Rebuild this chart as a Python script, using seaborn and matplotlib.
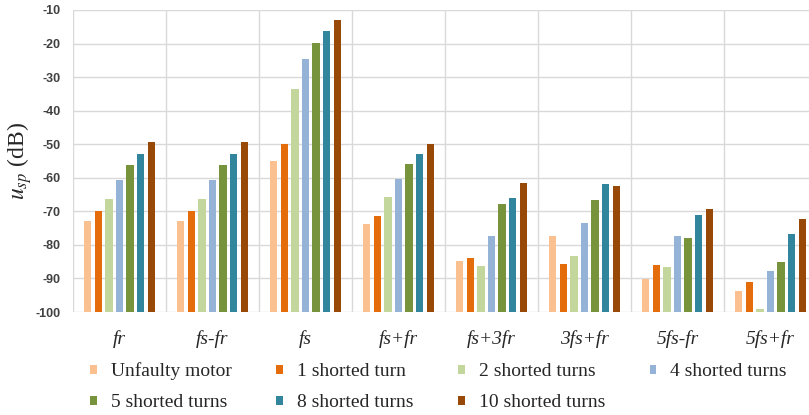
import numpy as np
import pandas as pd
import matplotlib
matplotlib.use("Agg")
import matplotlib.pyplot as plt
from matplotlib.patches import Patch
import seaborn as sns

# harmonic components on the x axis
harmonics = ["fr", "fs-fr", "fs", "fs+fr", "fs+3fr", "3fs+fr", "5fs-fr", "5fs+fr"]
conditions = ["Unfaulty motor", "1 shorted turn", "2 shorted turns", "4 shorted turns",
              "5 shorted turns", "8 shorted turns", "10 shorted turns"]

# amplitudes in dB
unfaulty = [-72.8, -72.8, -54.9, -73.8, -84.8, -77.3, -90.2, -93.6]
turns_1 = [-69.9, -69.9, -49.8, -71.3, -84.0, -85.8, -86.1, -91.2]
turns_2 = [-66.3, -66.3, -33.6, -65.6, -86.2, -83.4, -86.7, -99.1]
turns_4 = [-60.8, -60.8, -24.7, -60.4, -77.5, -73.4, -77.3, -87.9]
turns_5 = [-56.3, -56.3, -19.9, -55.9, -67.9, -66.5, -77.9, -85.0]
turns_8 = [-52.9, -52.9, -16.2, -52.9, -65.9, -61.8, -71.0, -76.8]
turns_10 = [-49.2, -49.2, -13.0, -50.0, -61.7, -62.5, -69.3, -72.3]

colors = ["#FAC090", "#E46C0A", "#C3D69B", "#95B3D7", "#77933C", "#31859C", "#984807"]
floor_db = -100

series = [unfaulty, turns_1, turns_2, turns_4, turns_5, turns_8, turns_10]
rows = []
for cond, vals in zip(conditions, series):
    for h, v in zip(harmonics, vals):
        rows.append({"harmonic": h, "condition": cond, "value": v, "rise": v - floor_db})
df = pd.DataFrame(rows)

sns.set_theme(style="white")
plt.rcParams["axes.unicode_minus"] = False
plt.rcParams["mathtext.fontset"] = "stix"
plt.rcParams["font.family"] = ["Liberation Serif", "DejaVu Serif"]

fig = plt.figure(figsize=(8.09, 4.15), dpi=100)
ax = fig.add_axes([73 / 809, 1 - 312 / 415, 744 / 809, 302 / 415])

sns.barplot(data=df, x="harmonic", y="rise", hue="condition", hue_order=conditions,
            order=harmonics, palette=colors, bottom=floor_db, width=0.8, gap=0.3,
            errorbar=None, saturation=1, linewidth=0, legend=False, ax=ax)

ax.set_ylim(-100, -10)
ax.set_xlim(-0.5, 7.5)
ax.set_yticks(np.arange(-100, 0, 10))
ax.set_yticklabels([f"{t:d}" for t in range(-100, 0, 10)],
                   fontfamily="Liberation Sans", fontweight="bold", fontsize=9,
                   color="#404040")
ax.set_xticks(range(len(harmonics)))
ax.set_xticklabels(harmonics, fontstyle="italic", fontsize=14, color="#262626")
ax.set_xticks(np.arange(-0.5, len(harmonics), 1), minor=True)
ax.tick_params(axis="both", which="both", length=0)
ax.tick_params(axis="y", pad=9)
ax.tick_params(axis="x", pad=13)

ax.set_axisbelow(True)
ax.yaxis.grid(True, color="#D9D9D9", linewidth=1)
ax.xaxis.grid(True, which="minor", color="#D9D9D9", linewidth=1)
ax.xaxis.grid(False, which="major")
for s in ax.spines.values():
    s.set_visible(False)

ax.set_xlabel("")
ax.set_ylabel(r"$u_{sp}$ (dB)", fontsize=17, color="#262626")
ax.yaxis.set_label_coords(-0.052, 0.5)

# legend filled row by row like the original (matplotlib fills by column)
handles = [Patch(facecolor=c, edgecolor="none") for c in colors]
order = [0, 4, 1, 5, 2, 6, 3]
fig.legend([handles[i] for i in order], [conditions[i] for i in order],
           loc="center", bbox_to_anchor=(0.542, 0.068), ncol=4,
           frameon=False, fontsize=14, handlelength=0.35, handleheight=0.35,
           handletextpad=0.7, columnspacing=2.3, labelspacing=0.72,
           borderpad=0, borderaxespad=0, labelcolor="#262626")

fig.savefig("out.png", dpi=100)
